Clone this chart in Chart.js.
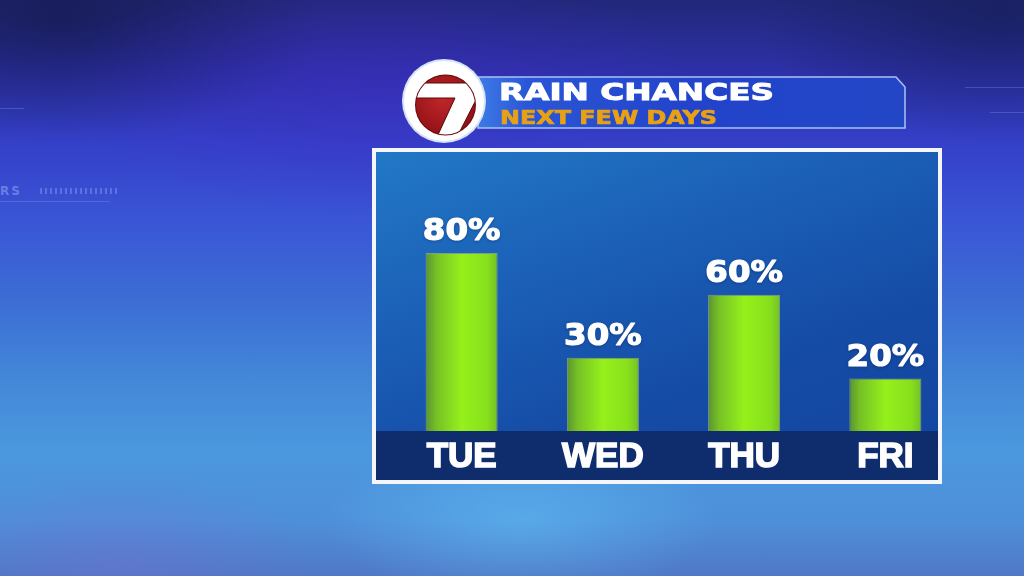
<!DOCTYPE html>
<html><head><meta charset="utf-8">
<script src="https://cdn.jsdelivr.net/npm/chart.js@4.4.1/dist/chart.umd.min.js"></script>
<style>
html,body{margin:0;padding:0;width:1024px;height:576px;overflow:hidden;background:#2a3aa0;}
#bg{position:absolute;left:0;top:0;width:1024px;height:576px;
background:
 radial-gradient(ellipse 260px 110px at 520px 520px, rgba(100,200,250,0.45), rgba(100,200,250,0) 75%),
 radial-gradient(ellipse 260px 120px at 120px 560px, rgba(120,110,210,0.35), rgba(120,110,210,0) 75%),
 radial-gradient(ellipse 420px 170px at 380px 90px, rgba(70,40,200,0.35), rgba(70,40,200,0) 75%),
 radial-gradient(ellipse 330px 150px at 60px 20px, rgba(15,20,60,0.55), rgba(15,20,60,0) 80%),
 radial-gradient(ellipse 300px 150px at 1000px 20px, rgba(15,25,70,0.5), rgba(15,25,70,0) 80%),
 linear-gradient(180deg,#22287a 0%,#2c30a6 12%,#3440c8 25%,#3a55d6 38%,#3c6dd4 52%,#4286d8 65%,#4b98de 78%,#4e90da 90%,#5078c6 100%);}
#panel{position:absolute;left:372px;top:148px;width:562px;height:328px;border:4px solid transparent;
 background:linear-gradient(160deg,#2278c6 0%,#1b5fb6 35%,#154ca6 65%,#13449e 100%) padding-box;}
#frame{position:absolute;left:372px;top:148px;width:562px;height:328px;border:4px solid #f4f6fb;}
#cv{position:absolute;left:376px;top:152px;}
svg{position:absolute;left:0;top:0;}
.deco{position:absolute;color:rgba(170,190,255,0.45);font:bold 12px "DejaVu Sans",sans-serif;letter-spacing:2px;}
.ln{position:absolute;height:1px;background:rgba(160,180,255,0.25);}
</style></head>
<body>
<div id="bg"></div>
<div class="deco" style="left:0px;top:184px;">RS</div>
<div class="ln" style="left:0;top:201px;width:110px;"></div>
<div class="ln" style="left:0;top:108px;width:24px;"></div>
<div class="ln" style="left:40px;top:188px;width:80px;background:repeating-linear-gradient(90deg,rgba(160,180,255,0.35) 0 2px,transparent 2px 5px);height:6px;"></div>
<div class="ln" style="left:965px;top:87px;width:59px;"></div>
<div class="ln" style="left:990px;top:112px;width:34px;"></div>
<div id="panel"></div>
<canvas id="cv" width="600" height="328"></canvas>
<div id="frame"></div>
<svg width="1024" height="576">
 <defs>
  <linearGradient id="bn" x1="0" x2="1" y1="0" y2="0">
   <stop offset="0" stop-color="#3d7ae6"/>
   <stop offset="0.12" stop-color="#2a55d6"/>
   <stop offset="0.5" stop-color="#2243ca"/>
   <stop offset="1" stop-color="#2346c6"/>
  </linearGradient>
  <radialGradient id="red" cx="0.45" cy="0.4" r="0.65">
   <stop offset="0" stop-color="#c0262a"/>
   <stop offset="1" stop-color="#8e1014"/>
  </radialGradient>
  <clipPath id="rc"><circle cx="445.5" cy="105" r="29.5"/></clipPath>
 </defs>
 <polygon points="478,77 896,77 905,87 905,128 478,128" fill="url(#bn)" stroke="#a9c2f4" stroke-width="1.5"/>
 <text x="499" y="100" textLength="275" lengthAdjust="spacingAndGlyphs" font-family="DejaVu Sans" font-weight="bold" font-size="23.5" fill="#ffffff" stroke="#ffffff" stroke-width="0.9">RAIN CHANCES</text>
 <text x="500" y="124" textLength="217" lengthAdjust="spacingAndGlyphs" font-family="DejaVu Sans" font-weight="bold" font-size="19" fill="#e8a114" stroke="#e8a114" stroke-width="0.7">NEXT FEW DAYS</text>
 <circle cx="444" cy="101" r="42" fill="#d6e4f8"/>
 <circle cx="444" cy="101" r="40" fill="#ffffff"/>
 <circle cx="445.5" cy="105" r="30.5" fill="#6a0a0c"/>
 <circle cx="445.5" cy="105" r="29.5" fill="url(#red)"/>
 <g clip-path="url(#rc)">
  <polygon points="410,83 480,83 480,92 457,137 437,137 455,98 410,98" fill="#ffffff" stroke="#5a0808" stroke-width="1"/>
 </g>
</svg>
<script>
const days = ['TUE', 'WED', 'THU', 'FRI'];
const rainChance = [80, 30, 60, 20];
const axisMin = -5;
const axisMax = 100;

function barFill(ctx) {
  const chart = ctx.chart;
  const xs = chart.scales && chart.scales.x;
  if (!xs || ctx.dataIndex === undefined) return '#8ee81e';
  const cx = xs.getPixelForValue(ctx.dataIndex);
  const half = xs.width / days.length * 0.51 / 2;
  if (!isFinite(cx) || !isFinite(half) || half <= 0) return '#8ee81e';
  const g = chart.ctx.createLinearGradient(cx - half, 0, cx + half, 0);
  g.addColorStop(0, '#5b9330');
  g.addColorStop(0.15, '#76c126');
  g.addColorStop(0.5, '#95f01b');
  g.addColorStop(0.85, '#88e01c');
  g.addColorStop(1, '#74c026');
  return g;
}

function tickFill(ctx) {
  const chart = ctx.chart;
  const b = chart.chartArea && isFinite(chart.chartArea.bottom) ? chart.chartArea.bottom : 279;
  const g = chart.ctx.createLinearGradient(0, b + 11, 0, b + 38);
  g.addColorStop(0, '#ffffff');
  g.addColorStop(0.5, '#f2f3f6');
  g.addColorStop(1, '#b4b9c6');
  return g;
}

const bandPlugin = {
  id: 'band',
  beforeDraw(chart) {
    const c = chart.ctx;
    c.save();
    c.fillStyle = '#0f2c6c';
    c.fillRect(0, chart.chartArea.bottom, 562, chart.height - chart.chartArea.bottom);
    c.restore();
  }
};

const valuePlugin = {
  id: 'values',
  afterDatasetsDraw(chart) {
    const c = chart.ctx;
    const meta = chart.getDatasetMeta(0);
    c.save();
    c.font = 'bold 30px "DejaVu Sans", sans-serif';
    c.textAlign = 'center';
    c.textBaseline = 'alphabetic';
    c.fillStyle = '#ffffff';
    c.strokeStyle = '#ffffff';
    c.lineWidth = 1.2;
    c.lineJoin = 'round';
    meta.data.forEach((bar, i) => {
      const txt = rainChance[i] + '%';
      c.save();
      c.translate(bar.x, bar.y - 13);
      c.scale(1.08, 1);
      c.shadowColor = 'rgba(0,0,40,0.4)';
      c.shadowBlur = 3;
      c.shadowOffsetY = 1;
      c.strokeText(txt, 0, 0);
      c.shadowColor = 'transparent';
      c.fillText(txt, 0, 0);
      c.restore();
    });
    c.restore();
  }
};

new Chart(document.getElementById('cv'), {
  type: 'bar',
  data: {
    labels: days,
    datasets: [{
      data: rainChance,
      base: axisMin,
      backgroundColor: barFill,
      borderColor: 'rgba(140,165,130,0.9)',
      borderWidth: 1,
      barPercentage: 0.51,
      categoryPercentage: 1
    }]
  },
  options: {
    responsive: false,
    animation: false,
    events: [],
    layout: { padding: { left: 15, right: 20, top: 59, bottom: 0 } },
    plugins: { legend: { display: false }, tooltip: { enabled: false } },
    scales: {
      y: { display: false, min: axisMin, max: axisMax },
      x: {
        grid: { display: false, drawTicks: false },
        border: { display: false },
        ticks: {
          padding: 5,
          maxRotation: 0,
          color: tickFill,
          textStrokeColor: tickFill,
          textStrokeWidth: 1.6,
          font: { family: '"Liberation Sans", Arial, sans-serif', weight: 'bold', size: 35 }
        },
        afterFit(s) { s.height = 49; }
      }
    }
  },
  plugins: [bandPlugin, valuePlugin]
});
</script>
</body></html>
